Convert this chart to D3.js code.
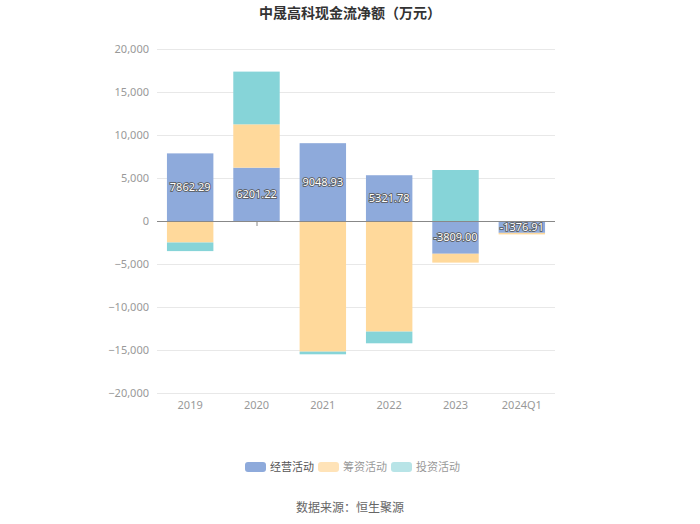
<!DOCTYPE html>
<html>
<head>
<meta charset="utf-8">
<script src="https://cdn.jsdelivr.net/npm/d3@7"></script>
<style>
  body { margin: 0; background: #fff; }
  text { font-family: "Noto Sans CJK SC", "Noto Sans", sans-serif; }
</style>
</head>
<body>
<script>
// data (万元)
var categories = ["2019", "2020", "2021", "2022", "2023", "2024Q1"];
var seriesNames = ["经营活动", "筹资活动", "投资活动"];
var operating = [7862.29, 6201.22, 9048.93, 5321.78, -3809.00, -1376.91];
var financing = [-2500, 5040, -15190, -12860, -1030, -180];
var investing = [-1000, 6130, -310, -1360, 5930, 0];
var yTicks = [-20000, -15000, -10000, -5000, 0, 5000, 10000, 15000, 20000];
var colors = ["#8eaadb", "#ffd99b", "#86d4d8"];
var legendColors = ["#8eaadb", "#ffe3b8", "#b8e4e7"];

var width = 700, height = 524;
var margin = {top: 49, right: 145, bottom: 131, left: 157};

var svg = d3.select("body").append("svg")
    .attr("width", width)
    .attr("height", height);

var x = d3.scaleBand()
    .domain(categories)
    .range([margin.left, width - margin.right])
    .paddingInner(0.3)
    .paddingOuter(0.15);

var y = d3.scaleLinear()
    .domain([-20000, 20000])
    .range([height - margin.bottom, margin.top]);

// title
svg.append("text")
    .attr("x", width / 2)
    .attr("y", 18)
    .attr("text-anchor", "middle")
    .attr("font-size", 14)
    .attr("font-weight", "bold")
    .attr("fill", "#333")
    .text("中晟高科现金流净额（万元）");

// grid lines
svg.append("g")
  .selectAll("line")
  .data(yTicks)
  .enter().append("line")
    .attr("x1", margin.left)
    .attr("x2", width - margin.right)
    .attr("y1", function(d) { return y(d) + 0.5; })
    .attr("y2", function(d) { return y(d) + 0.5; })
    .attr("stroke", "#e8e8e8");

// y axis labels
var yAxis = svg.append("g")
    .attr("transform", "translate(" + margin.left + ",0)")
    .call(d3.axisLeft(y).tickValues(yTicks).tickSize(0).tickPadding(8)
        .tickFormat(d3.format(",")));
yAxis.select(".domain").remove();
yAxis.selectAll("text")
    .attr("fill", "#999")
    .attr("font-size", 11)
    .style("font-family", "\"Noto Sans\", sans-serif");

// stack positive and negative separately
var all = [operating, financing, investing];
var rects = [];
categories.forEach(function(c, i) {
    var pos = 0, neg = 0;
    all.forEach(function(s, k) {
        var v = s[i];
        if (v >= 0) {
            rects.push({cat: c, k: k, y0: pos, y1: pos + v});
            pos += v;
        } else {
            rects.push({cat: c, k: k, y0: neg + v, y1: neg});
            neg += v;
        }
    });
});

svg.append("g")
  .selectAll("rect")
  .data(rects)
  .enter().append("rect")
    .attr("x", function(d) { return x(d.cat); })
    .attr("width", x.bandwidth())
    .attr("y", function(d) { return y(d.y1); })
    .attr("height", function(d) { return y(d.y0) - y(d.y1); })
    .attr("fill", function(d) { return colors[d.k]; });

// zero axis line + tick
svg.append("line")
    .attr("x1", margin.left)
    .attr("x2", width - margin.right)
    .attr("y1", y(0) + 0.5)
    .attr("y2", y(0) + 0.5)
    .attr("stroke", "#888");
svg.append("line")
    .attr("x1", x("2020") + x.bandwidth() / 2 + 0.5)
    .attr("x2", x("2020") + x.bandwidth() / 2 + 0.5)
    .attr("y1", y(0))
    .attr("y2", y(0) + 5)
    .attr("stroke", "#888");

// x labels
svg.append("g")
  .selectAll("text")
  .data(categories)
  .enter().append("text")
    .attr("x", function(d) { return x(d) + x.bandwidth() / 2; })
    .attr("y", y(-20000) + 16)
    .attr("text-anchor", "middle")
    .attr("font-size", 11)
    .attr("fill", "#999")
    .style("font-family", "\"Noto Sans\", sans-serif")
    .text(function(d) { return d; });

// value labels for operating
svg.append("g")
  .selectAll("text")
  .data(operating)
  .enter().append("text")
    .attr("x", function(d, i) { return x(categories[i]) + x.bandwidth() / 2; })
    .attr("y", function(d) { return y(d / 2); })
    .attr("dy", "0.35em")
    .attr("text-anchor", "middle")
    .attr("font-size", 11)
    .attr("fill", "#fff")
    .attr("stroke", "#555")
    .attr("stroke-width", 1.6)
    .attr("paint-order", "stroke")
    .style("font-family", "\"Noto Sans\", sans-serif")
    .text(function(d) { return d.toFixed(2); });

// legend
var legendX = [245, 318, 391];
var legend = svg.append("g")
  .selectAll("g")
  .data(seriesNames)
  .enter().append("g")
    .attr("transform", function(d, i) { return "translate(" + legendX[i] + ",462)"; });
legend.append("rect")
    .attr("width", 21)
    .attr("height", 10)
    .attr("rx", 3)
    .attr("fill", function(d, i) { return legendColors[i]; });
legend.append("text")
    .attr("x", 25)
    .attr("y", 5)
    .attr("dy", "0.35em")
    .attr("font-size", 11)
    .attr("fill", function(d, i) { return i === 0 ? "#555" : "#999"; })
    .text(function(d) { return d; });

// source
svg.append("text")
    .attr("x", width / 2)
    .attr("y", 512)
    .attr("text-anchor", "middle")
    .attr("font-size", 12)
    .attr("fill", "#666")
    .text("数据来源：恒生聚源");
</script>
</body>
</html>
